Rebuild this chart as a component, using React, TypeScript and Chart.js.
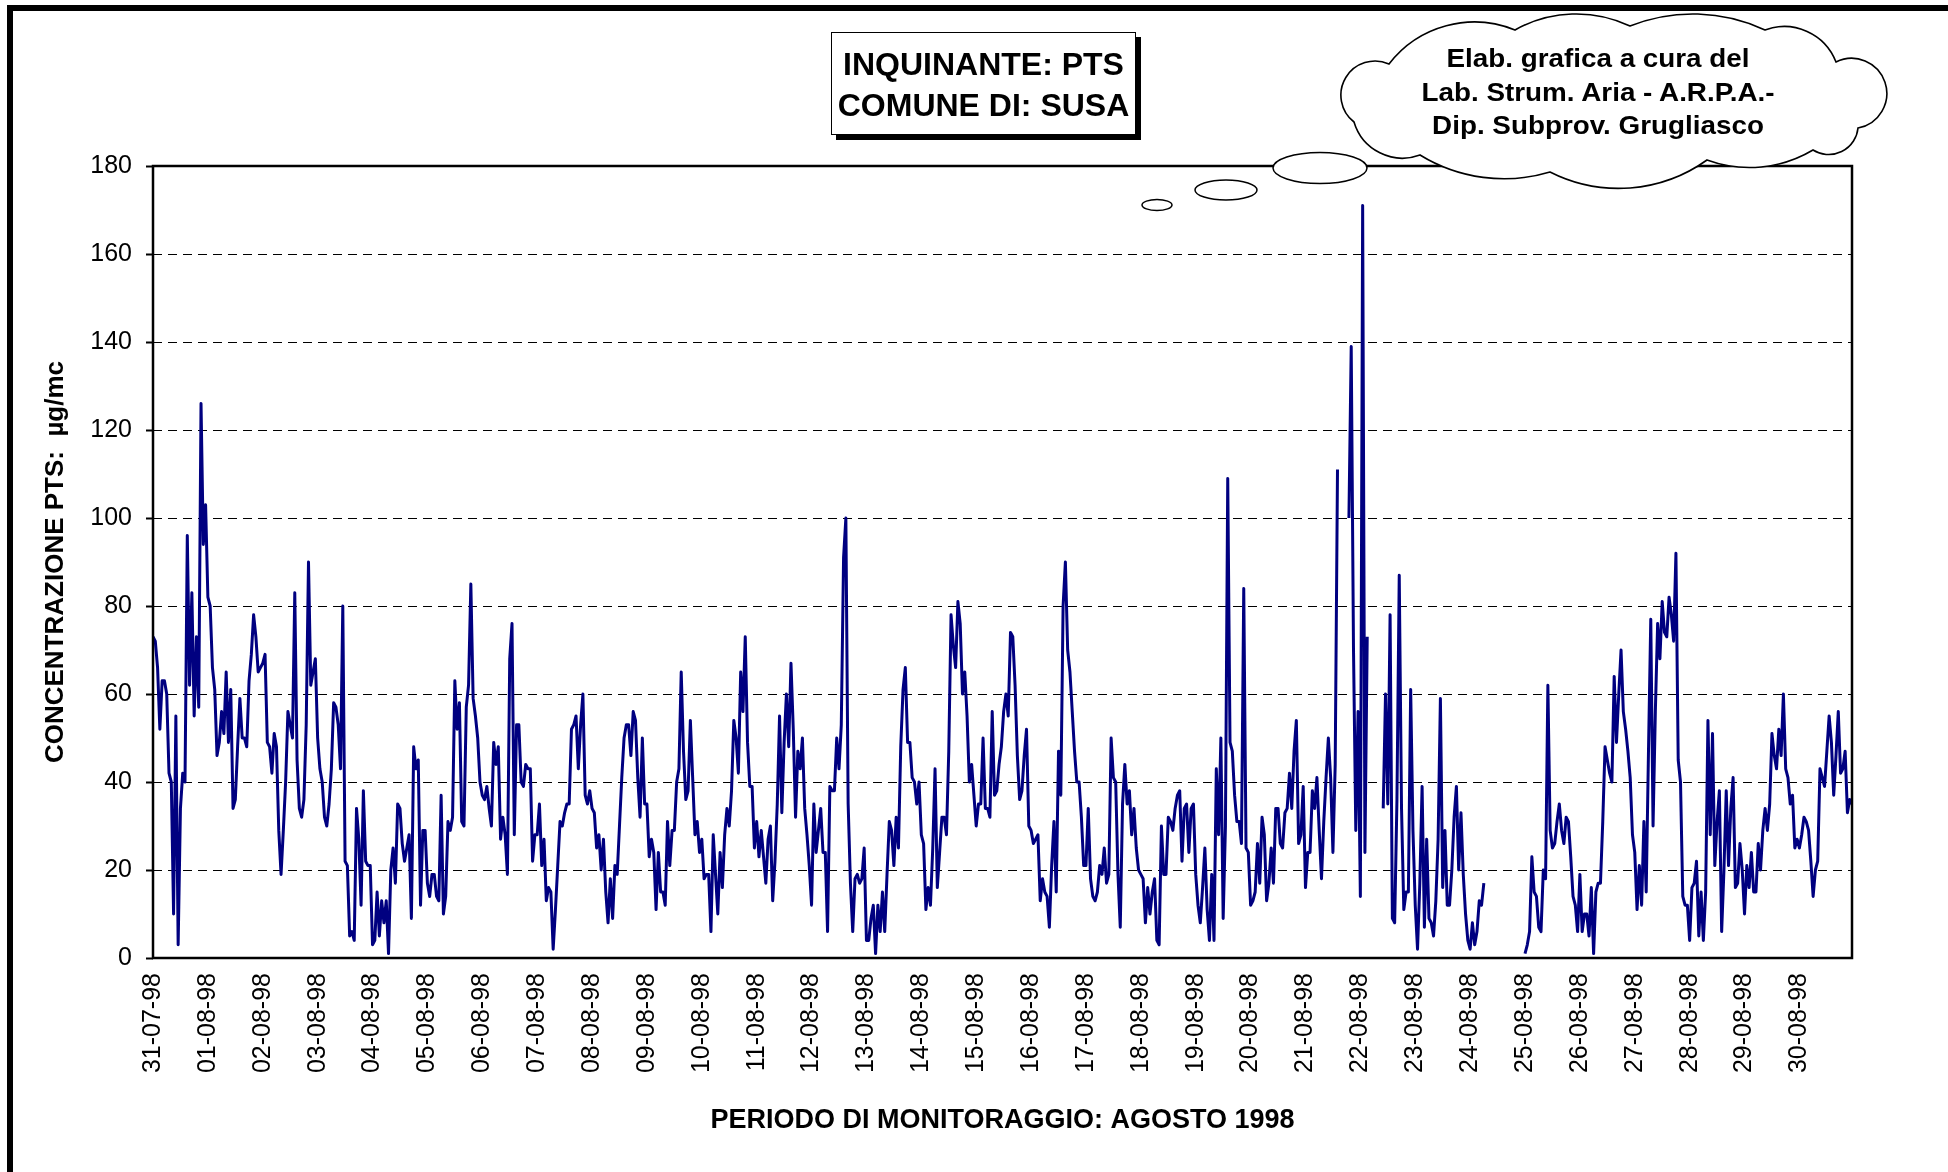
import React, { useEffect, useRef } from "react";
import { Chart, registerables } from "chart.js";

Chart.register(...registerables);

const dayLabels = [
  "31-07-98", "01-08-98", "02-08-98", "03-08-98", "04-08-98", "05-08-98", "06-08-98", "07-08-98",
  "08-08-98", "09-08-98", "10-08-98", "11-08-98", "12-08-98", "13-08-98", "14-08-98", "15-08-98",
  "16-08-98", "17-08-98", "18-08-98", "19-08-98", "20-08-98", "21-08-98", "22-08-98", "23-08-98",
  "24-08-98", "25-08-98", "26-08-98", "27-08-98", "28-08-98", "29-08-98", "30-08-98",
];

// Hourly PTS concentration (µg/mc), one array per day (24 hours each)
const d31_07 = [73, 72, 66, 52, 63, 63, 60, 42, 40, 10, 55, 3, 34, 42, 40, 96, 62, 83, 55, 73, 57, 126, 94, 103];
const d01_08 = [82, 80, 66, 61, 46, 49, 56, 51, 65, 49, 61, 34, 36, 48, 59, 50, 50, 48, 63, 69, 78, 73, 65, 66];
const d02_08 = [67, 69, 49, 48, 42, 51, 48, 29, 19, 29, 40, 56, 53, 50, 83, 45, 34, 32, 36, 53, 90, 62, 65, 68];
const d03_08 = [50, 43, 40, 32, 30, 35, 43, 58, 57, 53, 43, 80, 22, 21, 5, 6, 4, 34, 27, 12, 38, 22, 21, 21];
const d04_08 = [3, 4, 15, 5, 13, 8, 13, 1, 20, 25, 17, 35, 34, 26, 22, 25, 28, 9, 48, 43, 45, 12, 29, 29];
const d05_08 = [17, 14, 19, 19, 14, 13, 37, 10, 14, 31, 29, 32, 63, 52, 58, 31, 30, 57, 62, 85, 59, 55, 50, 40];
const d06_08 = [37, 36, 39, 34, 30, 49, 44, 48, 27, 32, 28, 19, 68, 76, 28, 53, 53, 40, 39, 44, 43, 43, 22, 28];
const d07_08 = [28, 35, 21, 27, 13, 16, 15, 2, 11, 21, 31, 30, 33, 35, 35, 52, 53, 55, 43, 53, 60, 37, 35, 38];
const d08_08 = [34, 33, 25, 28, 20, 27, 15, 8, 18, 9, 21, 19, 30, 41, 50, 53, 53, 46, 56, 54, 41, 32, 50, 35];
const d09_08 = [35, 23, 27, 24, 11, 24, 15, 15, 12, 31, 21, 29, 29, 40, 43, 65, 47, 36, 38, 54, 41, 28, 31, 24];
const d10_08 = [27, 18, 19, 19, 6, 28, 19, 10, 24, 16, 28, 34, 30, 38, 54, 50, 42, 65, 56, 73, 49, 39, 39, 25];
const d11_08 = [31, 23, 29, 23, 17, 27, 30, 13, 22, 35, 55, 33, 49, 60, 48, 67, 52, 32, 47, 43, 50, 34, 28, 21];
const d12_08 = [12, 35, 24, 29, 34, 24, 24, 6, 39, 38, 38, 50, 43, 53, 91, 100, 35, 17, 6, 18, 19, 17, 18, 25];
const d13_08 = [4, 4, 9, 12, 1, 12, 6, 15, 6, 19, 31, 29, 21, 32, 25, 48, 61, 66, 49, 49, 41, 40, 35, 40];
const d14_08 = [28, 26, 11, 16, 12, 25, 43, 16, 24, 32, 32, 28, 47, 78, 71, 66, 81, 76, 60, 65, 55, 40, 44, 37];
const d15_08 = [30, 35, 35, 50, 34, 34, 32, 56, 37, 38, 44, 48, 56, 60, 55, 74, 73, 62, 46, 36, 38, 46, 52, 30];
const d16_08 = [29, 26, 27, 28, 13, 18, 15, 14, 7, 21, 31, 15, 47, 37, 80, 90, 70, 65, 56, 47, 40, 40, 32, 21];
const d17_08 = [21, 34, 18, 14, 13, 15, 21, 19, 25, 17, 19, 50, 41, 40, 19, 7, 35, 44, 35, 38, 28, 34, 25, 20];
const d18_08 = [19, 18, 8, 16, 10, 15, 18, 4, 3, 30, 19, 19, 32, 31, 29, 34, 37, 38, 22, 34, 35, 24, 34, 35];
const d19_08 = [19, 12, 8, 16, 25, 11, 4, 19, 4, 43, 28, 50, 9, 30, 109, 49, 47, 37, 31, 31, 26, 84, 25, 24];
const d20_08 = [12, 13, 15, 26, 17, 32, 28, 13, 17, 25, 17, 34, 34, 26, 25, 33, 34, 42, 34, 47, 54, 26, 28, 39];
const d21_08 = [16, 24, 24, 38, 34, 41, 29, 18, 31, 41, 50, 41, 24, 44, 111, null, null, null, null, 100, 139, 70, 29, 56];
const d22_08 = [14, 171, 24, 73, null, null, null, null, null, null, 34, 60, 35, 78, 9, 8, 36, 87, 34, 11, 15, 15, 61, 29];
const d23_08 = [12, 2, 17, 39, 7, 27, 9, 8, 5, 13, 27, 59, 16, 29, 12, 12, 20, 32, 39, 20, 33, 19, 10, 4];
const d24_08 = [2, 8, 3, 6, 13, 12, 17, null, null, null, null, null, null, null, null, null, null, null, null, null, null, null, null, null];
const d25_08 = [1, 3, 6, 23, 15, 14, 7, 6, 20, 18, 62, 29, 25, 26, 31, 35, 29, 26, 32, 31, 23, 14, 12, 6];
const d26_08 = [19, 6, 10, 10, 5, 16, 1, 15, 17, 17, 31, 48, 45, 42, 40, 64, 49, 60, 70, 56, 52, 47, 41, 28];
const d27_08 = [24, 11, 21, 12, 31, 15, 47, 77, 30, 56, 76, 68, 81, 74, 73, 82, 78, 72, 92, 45, 40, 14, 12, 12];
const d28_08 = [4, 16, 17, 22, 5, 15, 4, 15, 54, 28, 51, 21, 31, 38, 6, 20, 38, 21, 34, 41, 16, 17, 26, 20];
const d29_08 = [10, 21, 16, 24, 15, 15, 26, 20, 29, 34, 29, 35, 51, 46, 43, 52, 46, 60, 43, 41, 35, 37, 25, 27];
const d30_08 = [25, 28, 32, 31, 29, 22, 14, 20, 22, 43, 41, 39, 47, 55, 49, 37, 46, 56, 42, 43, 47, 33, 36, 35];

const hourlyValues: (number | null)[] = [
  ...d31_07, ...d01_08, ...d02_08, ...d03_08, ...d04_08, ...d05_08, ...d06_08, ...d07_08,
  ...d08_08, ...d09_08, ...d10_08, ...d11_08, ...d12_08, ...d13_08, ...d14_08, ...d15_08,
  ...d16_08, ...d17_08, ...d18_08, ...d19_08, ...d20_08, ...d21_08, ...d22_08, ...d23_08,
  ...d24_08, ...d25_08, ...d26_08, ...d27_08, ...d28_08, ...d29_08, ...d30_08,
];

const titleLines = ["INQUINANTE: PTS", "COMUNE DI: SUSA"];
const creditLines = ["Elab. grafica a cura del", "Lab. Strum. Aria - A.R.P.A.-", "Dip. Subprov. Grugliasco"];
const xTitle = "PERIODO DI MONITORAGGIO: AGOSTO 1998";
const yTitle = "CONCENTRAZIONE PTS:  µg/mc";

const FONT = '"Liberation Sans", Arial, Helvetica, sans-serif';

const framePlugin = {
  id: "plotFrame",
  afterDraw(chart: any) {
    const { ctx, chartArea } = chart;
    ctx.save();
    ctx.strokeStyle = "#000";
    ctx.lineWidth = 2.5;
    ctx.setLineDash([]);
    ctx.strokeRect(chartArea.left, chartArea.top, chartArea.right - chartArea.left, chartArea.bottom - chartArea.top);
    ctx.restore();
  },
};

// cloud outline: vertices and the outward bulge (sagitta) of the arc leaving each vertex
const cloudPoints: [number, number, number][] = [
  [1389, 64, 22], [1515, 30, 14], [1630, 26, 14], [1765, 30, 16], [1836, 62, 40],
  [1858, 128, 14], [1813, 150, 12], [1707, 160, 22], [1550, 172, 14], [1420, 155, 16],
  [1354, 122, 30],
];

function cloudPath(points: [number, number, number][]) {
  let d = `M ${points[0][0]} ${points[0][1]}`;
  for (let i = 1; i <= points.length; i++) {
    const a = points[i - 1];
    const b = points[i % points.length];
    const c = Math.hypot(b[0] - a[0], b[1] - a[1]);
    const s = a[2];
    const r = (c * c) / 4 / (2 * s) + s / 2;
    const large = s > c / 2 ? 1 : 0;
    d += ` A ${r.toFixed(2)} ${r.toFixed(2)} 0 ${large} 1 ${b[0]} ${b[1]}`;
  }
  return d + " Z";
}

export default function App() {
  const canvasRef = useRef<HTMLCanvasElement | null>(null);

  useEffect(() => {
    const canvas = canvasRef.current;
    if (!canvas) return;
    const points = hourlyValues.map((v, i) => ({ x: i, y: v }));
    const chart = new Chart(canvas, {
      type: "line",
      data: {
        datasets: [
          {
            data: points as any,
            borderColor: "#000080",
            borderWidth: 3,
            pointRadius: 0,
            tension: 0,
            spanGaps: false,
            borderJoinStyle: "round",
            fill: false,
          },
        ],
      },
      options: {
        animation: false,
        responsive: false,
        devicePixelRatio: 1,
        parsing: false as any,
        layout: { padding: { left: 0, right: 96, top: 166, bottom: 0 } },
        plugins: { legend: { display: false }, tooltip: { enabled: false }, title: { display: false } },
        scales: {
          x: {
            type: "linear",
            min: 0,
            max: 743,
            afterBuildTicks: (scale: any) => {
              scale.ticks = dayLabels.map((_, i) => ({ value: i * 24 }));
            },
            afterFit: (scale: any) => {
              scale.height = 214;
            },
            ticks: {
              autoSkip: false,
              minRotation: 90,
              maxRotation: 90,
              padding: 15,
              color: "#000",
              font: { family: FONT, size: 25 },
              callback: (v: any) => dayLabels[Math.round(Number(v) / 24)] ?? "",
            },
            grid: { display: true, drawOnChartArea: false, drawTicks: false },
            border: { display: false },
            title: {
              display: true,
              text: xTitle,
              color: "#000",
              font: { family: FONT, size: 27, weight: "bold" },
              padding: { top: 0, bottom: 35 },
            },
          },
          y: {
            min: 0,
            max: 180,
            afterFit: (scale: any) => {
              scale.width = 153;
            },
            ticks: {
              stepSize: 20,
              padding: 14,
              color: "#000",
              font: { family: FONT, size: 25 },
            },
            grid: {
              color: "#000",
              lineWidth: 1,
              tickLength: 7,
              tickColor: "#000",
              tickWidth: 2,
              tickBorderDash: [],
            },
            border: { display: false, dash: [9, 6] },
            title: {
              display: true,
              text: yTitle,
              color: "#000",
              font: { family: FONT, size: 26, weight: "bold" },
              padding: { top: 40, bottom: 0 },
            },
          },
        },
      },
      plugins: [framePlugin],
    });
    return () => chart.destroy();
  }, []);

  return (
    <div style={{ position: "fixed", left: 0, top: 0, width: 1948, height: 1172, background: "#fff", overflow: "hidden" }}>
      <canvas ref={canvasRef} width={1948} height={1172} style={{ position: "absolute", left: 0, top: 0, width: 1948, height: 1172 }} />
      <div
        style={{
          position: "absolute",
          left: 7,
          top: 5,
          width: 2100,
          height: 1300,
          borderLeft: "6px solid #000",
          borderTop: "6px solid #000",
          pointerEvents: "none",
        }}
      />
      <div
        style={{
          position: "absolute",
          left: 831,
          top: 32,
          width: 305,
          height: 103,
          border: "1.5px solid #000",
          boxShadow: "5px 5px 0 #000",
          background: "#fff",
          fontFamily: FONT,
          fontWeight: "bold",
          fontSize: 32,
          lineHeight: "41px",
          textAlign: "center",
          paddingTop: 11,
          boxSizing: "border-box",
          color: "#000",
          whiteSpace: "nowrap",
        }}
      >
        {titleLines.map((t) => (
          <div key={t}>{t}</div>
        ))}
      </div>
      <svg width={1948} height={1172} style={{ position: "absolute", left: 0, top: 0, pointerEvents: "none" }}>
        <path d={cloudPath(cloudPoints)} fill="#fff" stroke="#000" strokeWidth={1.6} />
        <ellipse cx={1157} cy={205} rx={15} ry={5.5} fill="#fff" stroke="#000" strokeWidth={1.5} />
        <ellipse cx={1226} cy={190} rx={31} ry={10} fill="#fff" stroke="#000" strokeWidth={1.5} />
        <ellipse cx={1320} cy={168} rx={47} ry={15.5} fill="#fff" stroke="#000" strokeWidth={1.5} />
      </svg>
      {creditLines.map((t, i) => (
        <div
          key={t}
          style={{
            position: "absolute",
            left: 1398,
            width: 400,
            top: 58 + i * 33.5 - 16,
            height: 32,
            lineHeight: "32px",
            textAlign: "center",
            fontFamily: FONT,
            fontWeight: "bold",
            fontSize: 26,
            transform: "scaleX(1.07)",
            color: "#000",
            whiteSpace: "nowrap",
          }}
        >
          {t}
        </div>
      ))}
    </div>
  );
}
